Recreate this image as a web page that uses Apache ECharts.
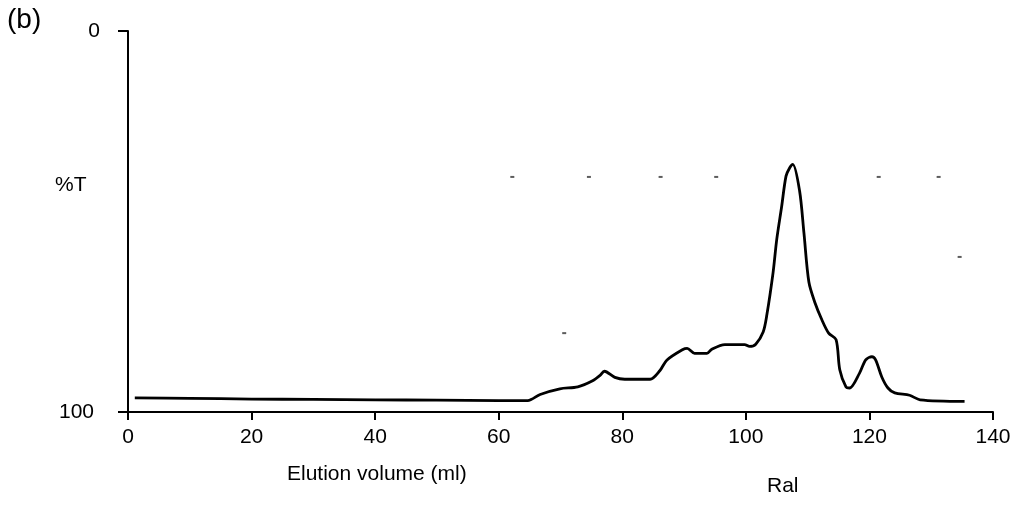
<!DOCTYPE html>
<html>
<head>
<meta charset="utf-8">
<script src="https://cdn.jsdelivr.net/npm/echarts@6/dist/echarts.min.js"></script>
<style>
  html, body { margin: 0; padding: 0; background: #fff; }
  #chart { width: 1016px; height: 506px; }
</style>
</head>
<body>
<div id="chart"></div>
<script>
// elution volume (ml) and transmittance (%T)
const volume = [1.1, 10, 20, 30, 40, 50, 60, 64.7, 66.7, 69.9, 72.8, 75.2, 76.4, 77.1, 78.8, 80.4,
  84.5, 86.1, 87.2, 89.8, 90.5, 91.7, 93.7, 94.5, 96.6, 99.8, 100.6, 101.6, 102.8, 103.4, 104.4,
  105, 105.8, 106.5, 107.1, 107.6, 108.7, 109.4, 110.2, 111.2, 112.3, 113.4, 114.6, 115.2, 116.2,
  116.8, 118.4, 119.4, 120.4, 121, 122, 123, 124.1, 126.5, 128.2, 135.4];
const transmittance = [96.3, 96.4, 96.6, 96.7, 96.8, 96.9, 97, 97, 95.4, 93.9, 93.4, 91.8, 90.4, 89.3, 90.9, 91.4,
  91.4, 89.1, 86.4, 83.6, 83.3, 84.6, 84.6, 83.5, 82.3, 82.3, 82.8, 82.2, 79, 74.5, 63.5,
  54.7, 46, 38.1, 35.9, 35, 42, 53, 65.9, 71.4, 75.8, 79.3, 81, 88.9, 93.4,
  93.7, 89.8, 86.3, 85.5, 86.3, 90.8, 93.7, 95, 95.6, 96.8, 97.2];

// stray specks in the scanned figure
const speckX = [62.2, 74.6, 86.2, 95.2, 121.5, 131.2, 134.6, 70.6];
const speckY = [38.3, 38.3, 38.3, 38.3, 38.3, 38.3, 59.3, 79.3];

const xTicks = [0, 20, 40, 60, 80, 100, 120, 140];
const yTicks = [0, 100];

const font = "'Liberation Sans', Arial, sans-serif";
const chart = echarts.init(document.getElementById("chart"));

chart.setOption({
  backgroundColor: "#fff",
  animation: false,
  grid: { left: 128, right: 23, top: 31, bottom: 94 },
  xAxis: {
    type: "value",
    position: "bottom",
    min: xTicks[0],
    max: xTicks[xTicks.length - 1],
    interval: 20,
    axisLine: { onZero: false, lineStyle: { color: "#000", width: 2 } },
    axisTick: { length: 8, lineStyle: { color: "#000", width: 2 } },
    axisLabel: { color: "#000", fontSize: 21, fontFamily: font, margin: 15 },
    splitLine: { show: false },
  },
  yAxis: {
    type: "value",
    inverse: true,
    min: yTicks[0],
    max: yTicks[1],
    interval: 100,
    axisLine: { show: true, onZero: false, lineStyle: { color: "#000", width: 2 } },
    axisTick: { show: true, length: 10, lineStyle: { color: "#000", width: 2 } },
    axisLabel: {
      color: "#000", fontSize: 21, fontFamily: font, margin: 28,
      formatter: (v) => (v === 100 ? "{far|100}" : String(v)),
      rich: { far: { fontSize: 21, fontFamily: font, color: "#000", padding: [0, 6, 0, 0] } },
    },
    splitLine: { show: false },
  },
  graphic: [
    { type: "text", left: 7, top: 6, style: { text: "(b)", fontSize: 28, fontFamily: font, fill: "#000" } },
    { type: "text", left: 55, top: 175, style: { text: "%T", fontSize: 21, fontFamily: font, fill: "#000" } },
    { type: "text", left: 287, top: 464, style: { text: "Elution volume (ml)", fontSize: 21, fontFamily: font, fill: "#000" } },
    { type: "text", left: 767, top: 476, style: { text: "Ral", fontSize: 21, fontFamily: font, fill: "#000" } },
  ],
  series: [
    {
      type: "line",
      data: volume.map((v, i) => [v, transmittance[i]]),
      showSymbol: false,
      smooth: 0.3,
      lineStyle: { color: "#000", width: 2.8 },
    },
    {
      type: "scatter",
      data: speckX.map((v, i) => [v, speckY[i]]),
      symbol: "rect",
      symbolSize: [4, 2],
      itemStyle: { color: "#333" },
    },
  ],
});
</script>
</body>
</html>
